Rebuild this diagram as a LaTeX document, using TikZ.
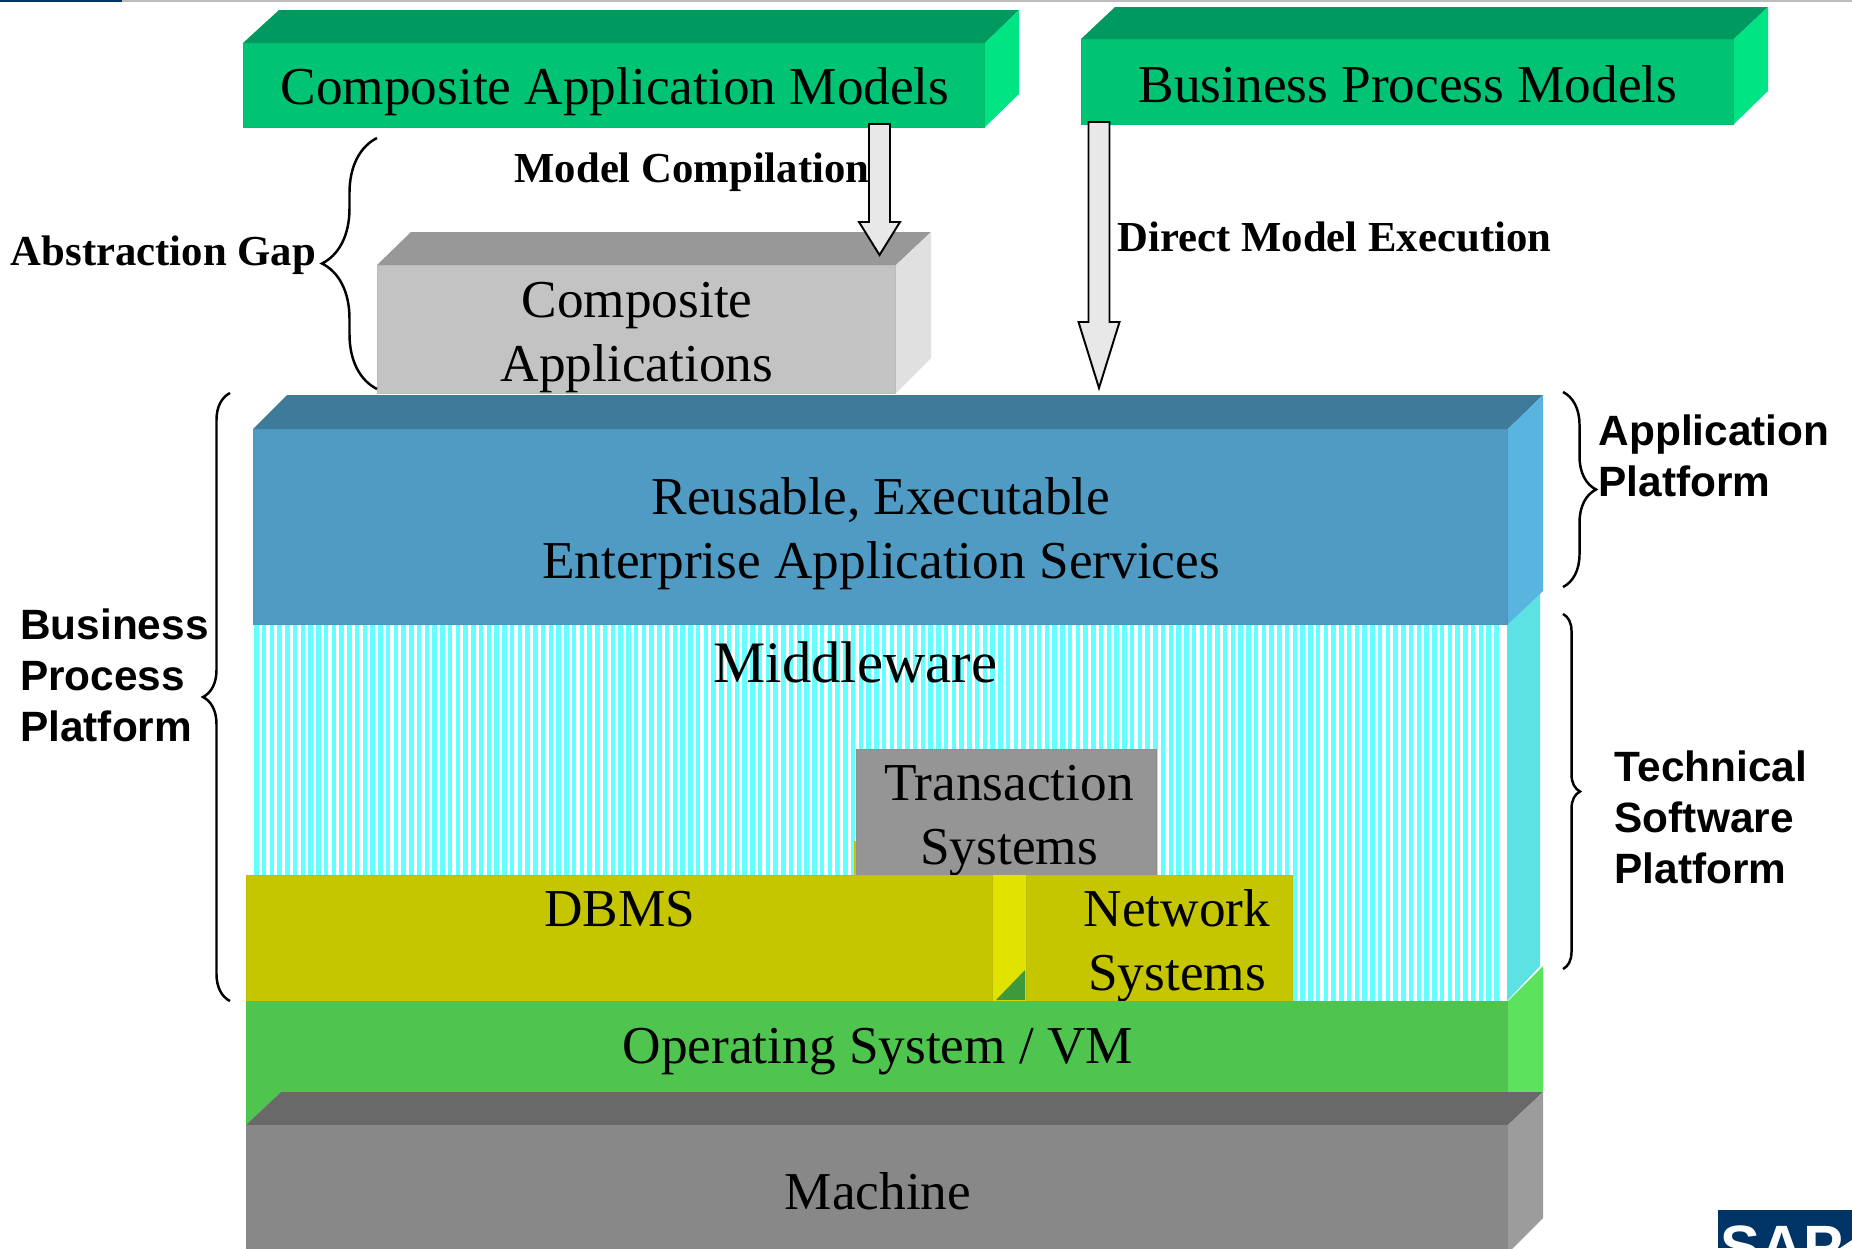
\documentclass[tikz,border=0pt]{standalone}
\usepackage{fontspec}
\usepackage{tikz}
\usetikzlibrary{calc,decorations.pathreplacing}
\setmainfont{Liberation Serif}
\newfontfamily\platformfont{Liberation Sans}

\tikzset{
	layer/.style={font=\fontsize{15.15}{18.2}\selectfont,align=center,inner sep=0pt},
	front/.style={fill=#1,draw=#1!96!black,line width=0.25pt},
	serifbold/.style={font=\fontsize{12.15}{14}\selectfont\bfseries,inner sep=0pt},
	sansbold/.style={font=\fontsize{12.05}{14.5}\platformfont\bfseries,align=left,inner sep=0pt,anchor=west},
	blockarrow/.style={draw=black,line width=0.55pt,fill=arrowgrey,line join=miter},
	bracket/.style={draw=black,line width=0.7pt,decorate,decoration={brace,amplitude=#1}}
}
\definecolor{arrowgrey}{HTML}{E8E8E8}
\definecolor{modelfront}{HTML}{00C473}
\definecolor{modeltop}{HTML}{009A60}
\definecolor{modelside}{HTML}{00E484}
\definecolor{compfront}{HTML}{C3C3C3}
\definecolor{comptop}{HTML}{989898}
\definecolor{compside}{HTML}{E0E0E0}
\definecolor{servfront}{HTML}{4F9BC4}
\definecolor{servtop}{HTML}{3E7A9A}
\definecolor{servside}{HTML}{5AB4E0}
\definecolor{midstripe}{HTML}{66FFFF}
\definecolor{midside}{HTML}{5CE2E2}
\definecolor{dbfront}{HTML}{C6C600}
\definecolor{dbside}{HTML}{E2E200}
\definecolor{dbshade}{HTML}{3C9A3C}
\definecolor{osfront}{HTML}{4FC44F}
\definecolor{osside}{HTML}{5CE25C}
\definecolor{machfront}{HTML}{888888}
\definecolor{machtop}{HTML}{696969}
\definecolor{machside}{HTML}{9C9C9C}
\definecolor{transfront}{HTML}{959595}
\definecolor{sapblue}{HTML}{003366}
\definecolor{topline}{HTML}{BDBDBD}

% block arrow between two named points, #3 is the head length
\newcommand{\blockarrow}[3]{
	\draw[blockarrow] ($(#1)+(-10.5,0)$) -- ($(#2)+(-10.5,-#3)$) -- ($(#2)+(-20.5,-#3)$) -- (#2) -- ($(#2)+(20.5,-#3)$) -- ($(#2)+(10.5,-#3)$) -- ($(#1)+(10.5,0)$) -- cycle;
}

\begin{document}
\begin{tikzpicture}[x=0.01cm,y=-0.01cm]
	\useasboundingbox (0,0) rectangle (1852,1248);
	\clip (0,0) rectangle (1852,1248);
	\fill[white] (0,0) rectangle (1852,1248);
	
	\fill[topline] (0,0) rectangle (1852,2);
	\fill[sapblue] (0,0) rectangle (122,2);
	
	% top models
	\fill[modeltop] (243,43) -- (279,10) -- (1019,10) -- (985,43) -- cycle;
	\fill[modelside] (985,43) -- (1019,10) -- (1019,94) -- (985,127) -- cycle;
	\draw[front=modelfront] (243.5,43) rectangle (984.5,127);
	\node[layer] (camodels) at (615,91.5) {Composite Application Models};
	
	\fill[modeltop] (1081,39) -- (1115,7) -- (1768,7) -- (1734,39) -- cycle;
	\fill[modelside] (1734,39) -- (1768,7) -- (1768,91) -- (1734,124) -- cycle;
	\draw[front=modelfront] (1081.5,39) rectangle (1733.5,124);
	\node[layer] (bpmodels) at (1408,84) {Business Process Models};
	
	% composite applications
	\fill[comptop] (377,265) -- (411,232) -- (931,232) -- (896,265) -- cycle;
	\fill[compside] (896,265) -- (931,232) -- (931,358) -- (896,393) -- cycle;
	\draw[front=compfront] (377.5,265) rectangle (895.5,393);
	\node[layer] (compapps) at (637,337.5) {Composite\\Applications};
	
	% middleware, stripes first
	\fill[white] (253,624) rectangle (1507,1001);
	\foreach \x in {254,261.75,...,1500} {
		\fill[midstripe] (\x,624) rectangle (\x+4.7,1001);
	}
	\fill[midside] (1507,624) -- (1540,591) -- (1540,966) -- (1507,1001) -- cycle;
	\node[layer,font=\fontsize{16.7}{20}\selectfont] (middleware) at (855.5,662) {Middleware};
	
	% application services
	\fill[servtop] (253,429) -- (287,395) -- (1543,395) -- (1508,429) -- cycle;
	\fill[servside] (1508,429) -- (1543,395) -- (1543,591) -- (1508,624) -- cycle;
	\draw[front=servfront] (253.5,429) rectangle (1507.5,624);
	\node[layer] (services) at (881,534) {Reusable, Executable\\Enterprise Application Services};
	
	% transaction, dbms, network
	\fill[dbfront] (853.5,841) rectangle (856,875);
	\draw[front=transfront] (856.5,749.5) rectangle (1156.5,876);
	\node[layer] (transaction) at (1009,820.5) {Transaction\\Systems};
	\draw[front=dbfront] (246.5,875.5) rectangle (992.5,1001);
	\node[layer] (dbms) at (619.5,909) {DBMS};
	\fill[dbside] (993,875) rectangle (1026,1001);
	\fill[dbshade] (996,1000) -- (1025,970) -- (1025,1000) -- cycle;
	\draw[front=dbfront] (1026.5,875.5) rectangle (1292.5,1001);
	\node[layer] (network) at (1177,946) {Network\\Systems};
	
	% os and machine
	\fill[osside] (1508,1001) -- (1543,966) -- (1543,1092) -- (1508,1092) -- cycle;
	\fill[osfront] (246,1001) rectangle (1508,1092);
	\fill[osfront] (246,1092) -- (281,1092) -- (246,1125) -- cycle;
	\node[layer] (os) at (878,1052) {Operating System / VM};
	
	\fill[machtop] (246,1125) -- (281,1092) -- (1543,1092) -- (1508,1125) -- cycle;
	\fill[machside] (1508,1125) -- (1543,1092) -- (1543,1218) -- (1508,1253) -- cycle;
	\fill[machfront] (246,1125) rectangle (1508,1250);
	\node[layer] (machine) at (878,1191) {Machine};
	
	% logo
	\fill[sapblue] (1718,1210) rectangle (1852,1248);
	\node[font=\fontsize{17}{17}\platformfont\bfseries,text=white,anchor=north west,inner sep=0pt] (saplogo) at (1720,1225) {SAP};
	\fill[white] (1852,1240) -- (1852,1248) -- (1840,1248) -- cycle;
	
	% arrows
	\coordinate (mcstart) at (879.5,124);
	\coordinate (mcend) at (879.5,255);
	\blockarrow{mcstart}{mcend}{33}
	\coordinate (dmstart) at (1099,122);
	\coordinate (dmend) at (1099,388);
	\blockarrow{dmstart}{dmend}{66}
	\node[serifbold] (mclabel) at (692,172) {Model Compilation};
	\node[serifbold] (dmlabel) at (1334.5,237) {Direct Model Execution};
	
	% braces
	\coordinate (gaptop) at (377,138);
	\coordinate (gapbot) at (377,389);
	\draw[bracket=0.55cm] (gapbot) -- (gaptop);
	\node[serifbold] (gaplabel) at (163.5,255.5) {Abstraction Gap};
	
	\coordinate (bpptop) at (230,393);
	\coordinate (bppbot) at (230,1001);
	\draw[bracket=0.27cm] (bppbot) -- (bpptop);
	\node[sansbold] (bpplabel) at (19.5,675.5) {Business\\Process\\Platform};
	
	\coordinate (aptop) at (1563,392);
	\coordinate (apbot) at (1563,587);
	\draw[bracket=0.33cm] (aptop) -- (apbot);
	\node[sansbold] (aplabel) at (1598,455.5) {Application\\Platform};
	
	\coordinate (tsptop) at (1563,614);
	\coordinate (tspbot) at (1563,969);
	\draw[bracket=0.17cm] (tsptop) -- (tspbot);
	\node[sansbold] (tsplabel) at (1614,817) {Technical\\Software\\Platform};
\end{tikzpicture}
\end{document}
